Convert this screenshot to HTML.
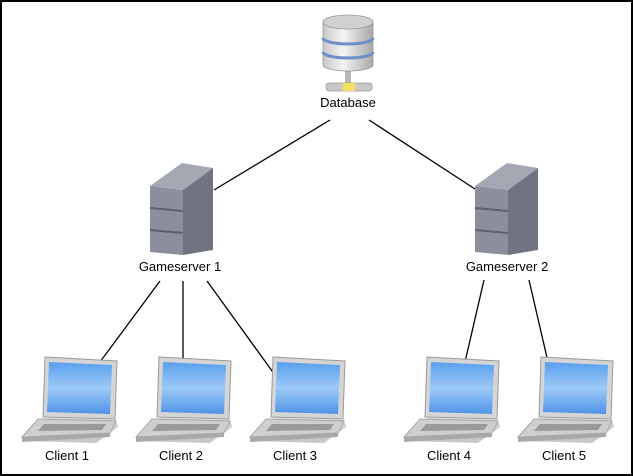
<!DOCTYPE html>
<html><head><style>
html,body{margin:0;padding:0;background:#fff}
svg{display:block}
text{font-family:"Liberation Sans",sans-serif;font-size:13px;fill:#000}
</style></head><body>
<svg width="633" height="476" viewBox="0 0 633 476">
<defs>
<linearGradient id="cyl" x1="0" x2="1"><stop offset="0" stop-color="#c8c8c8"/><stop offset="0.4" stop-color="#f4f4f4"/><stop offset="1" stop-color="#a8a8a8"/></linearGradient>
<linearGradient id="scr" x1="0" y1="0" x2="0" y2="1"><stop offset="0" stop-color="#5aa0ee"/><stop offset="0.5" stop-color="#9cc9f6"/><stop offset="1" stop-color="#4f94e6"/></linearGradient>
<g id="srv">
<polygon points="0,23 33,27 63,5 32,0" fill="#a3a8b3"/>
<polygon points="0,23 33,27 33,92 0,89" fill="#8a8f9b"/>
<polygon points="33,27 63,5 63,87 33,92" fill="#6f7480"/>
<path d="M0,45 L33,48 M0,67 L33,70" stroke="#5d616b" stroke-width="2"/>
</g>
<g id="lap">
<polygon points="23,0 95,4 93,62 21,60" fill="#d5d5d5" stroke="#999" stroke-width="1"/>
<polygon points="27,5 90,8 88,57 25,55" fill="url(#scr)"/>
<polygon points="20,61 94,63 96,70 14,73 0,84 74,86 96,70" fill="#c8c8c8"/>
<polygon points="16,62 94,64 88,76 0,80" fill="#cfcfcf" stroke="#aaa" stroke-width="1"/>
<polygon points="0,80 88,76 88,80 0,85" fill="#a9a9a9"/>
<polygon points="22,67 84,67 80,73 16,74" fill="#9a9a9a"/>
</g>
</defs>
<rect x="1" y="1" width="631" height="474" fill="#fff" stroke="#000" stroke-width="2"/>
<g stroke="#000" stroke-width="1.3">
<line x1="330" y1="120" x2="214" y2="190"/>
<line x1="369" y1="120" x2="475" y2="189"/>
<line x1="160" y1="281" x2="97" y2="366"/>
<line x1="183" y1="281" x2="183" y2="360"/>
<line x1="207" y1="281" x2="275" y2="375"/>
<line x1="484" y1="280" x2="465" y2="362"/>
<line x1="529" y1="280" x2="548" y2="362"/>
</g>
<!-- database -->
<rect x="345" y="68" width="6" height="16" fill="#b8b8b8"/>
<rect x="326" y="83" width="46" height="8" rx="3" fill="#c8c8c8" stroke="#999" stroke-width="0.8"/>
<rect x="343" y="83" width="12" height="8" fill="#f2e15a"/>
<path d="M323,22 L323,65 A25,6 0 0 0 373,65 L373,22 Z" fill="url(#cyl)" stroke="#999" stroke-width="0.8"/>
<ellipse cx="348" cy="22" rx="25" ry="7" fill="#d0d0d0" stroke="#999" stroke-width="0.8"/>
<path d="M323,38 A25,6 0 0 0 373,38 M323,52 A25,6 0 0 0 373,52" fill="none" stroke="#6f8fc8" stroke-width="3"/>
<text x="348" y="107" text-anchor="middle">Database</text>
<use href="#srv" x="150" y="163"/>
<use href="#srv" x="475" y="163"/>
<text x="180" y="271" text-anchor="middle">Gameserver 1</text>
<text x="507" y="271" text-anchor="middle">Gameserver 2</text>
<use href="#lap" x="22" y="357"/>
<use href="#lap" x="136" y="357"/>
<use href="#lap" x="250" y="357"/>
<use href="#lap" x="404" y="357"/>
<use href="#lap" x="518" y="357"/>
<text x="67" y="460" text-anchor="middle">Client 1</text>
<text x="181" y="460" text-anchor="middle">Client 2</text>
<text x="295" y="460" text-anchor="middle">Client 3</text>
<text x="449" y="460" text-anchor="middle">Client 4</text>
<text x="564" y="460" text-anchor="middle">Client 5</text>
</svg>
</body></html>
